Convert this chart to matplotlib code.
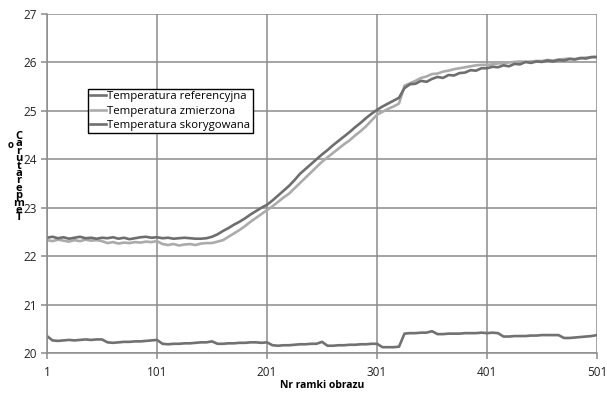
import matplotlib
matplotlib.use("Agg")
import matplotlib.pyplot as plt

frames = list(range(1, 502, 5))

temp_ref = [
    20.35, 20.26, 20.25, 20.26, 20.27, 20.26, 20.27, 20.28, 20.27, 20.28,
    20.28, 20.22, 20.21, 20.22, 20.23, 20.23, 20.24, 20.24, 20.25, 20.26,
    20.27, 20.19, 20.18, 20.19, 20.19, 20.20, 20.20, 20.21, 20.22, 20.22,
    20.24, 20.19, 20.19, 20.20, 20.20, 20.21, 20.21, 20.22, 20.22, 20.21,
    20.22, 20.16, 20.15, 20.16, 20.16, 20.17, 20.18, 20.18, 20.19, 20.19,
    20.23, 20.15, 20.15, 20.16, 20.16, 20.17, 20.17, 20.18, 20.18, 20.19,
    20.19, 20.12, 20.12, 20.12, 20.13, 20.40, 20.41, 20.41, 20.42, 20.42,
    20.45, 20.39, 20.39, 20.40, 20.40, 20.40, 20.41, 20.41, 20.41, 20.42,
    20.41, 20.42, 20.41, 20.34, 20.34, 20.35, 20.35, 20.35, 20.36, 20.36,
    20.37, 20.37, 20.37, 20.37, 20.31, 20.31, 20.32, 20.33, 20.34, 20.35,
    20.37,
]

temp_meas = [
    22.33, 22.31, 22.34, 22.32, 22.30, 22.33, 22.31, 22.34, 22.32, 22.33,
    22.31, 22.27, 22.29, 22.26, 22.28, 22.27, 22.29, 22.28, 22.30, 22.29,
    22.31, 22.25, 22.23, 22.25, 22.22, 22.24, 22.25, 22.23, 22.26, 22.27,
    22.27, 22.30, 22.33, 22.40, 22.47, 22.54, 22.62, 22.71, 22.79, 22.87,
    22.95, 23.03, 23.12, 23.21, 23.29, 23.40, 23.51, 23.62, 23.73, 23.84,
    23.95, 24.04, 24.13, 24.22, 24.31, 24.39, 24.49, 24.58, 24.68, 24.80,
    24.92, 24.98, 25.04, 25.09, 25.15, 25.52, 25.57, 25.62, 25.68, 25.71,
    25.76, 25.77, 25.81, 25.83, 25.86, 25.88, 25.90, 25.92, 25.94, 25.95,
    25.95, 25.96, 25.98, 25.98, 26.00, 26.01, 26.02, 26.01, 26.02, 26.03,
    26.03, 26.05, 26.04, 26.06, 26.07, 26.08, 26.07, 26.09, 26.10, 26.11,
    26.12,
]

temp_corr = [
    22.38, 22.40, 22.37, 22.39, 22.36, 22.38, 22.40, 22.37, 22.38, 22.36,
    22.38, 22.37, 22.39, 22.36, 22.38, 22.35, 22.37, 22.39, 22.40, 22.38,
    22.39, 22.37, 22.38, 22.36, 22.37, 22.38, 22.37, 22.36, 22.36, 22.37,
    22.40, 22.45, 22.52, 22.58, 22.65, 22.71, 22.78, 22.86, 22.93, 23.00,
    23.06, 23.15, 23.25, 23.35, 23.45, 23.57, 23.70, 23.80, 23.90, 24.00,
    24.10, 24.19, 24.29, 24.38, 24.47, 24.56, 24.66, 24.75, 24.85, 24.94,
    25.02, 25.09, 25.15, 25.21, 25.27, 25.47, 25.55, 25.56, 25.62, 25.60,
    25.66, 25.70, 25.68, 25.74, 25.73, 25.78, 25.79, 25.84, 25.83, 25.88,
    25.88, 25.91, 25.90, 25.94, 25.92, 25.97, 25.96, 26.01, 25.99, 26.02,
    26.01, 26.04, 26.02, 26.05, 26.04, 26.07, 26.06, 26.09, 26.08, 26.11,
    26.11,
]

labels = ["Temperatura referencyjna", "Temperatura zmierzona", "Temperatura skorygowana"]
colors = ["#717171", "#ababab", "#6e6e6e"]
xticks = [1, 101, 201, 301, 401, 501]
yticks = [20, 21, 22, 23, 24, 25, 26, 27]

plt.rcParams['font.family'] = ['Open Sans', 'DejaVu Sans']

fig = plt.figure(figsize=(6.07, 3.94), dpi=100)
ax = fig.add_axes([47/607, 1 - 353/394, 550/607, 339/394])

for vals, lab, col in zip([temp_ref, temp_meas, temp_corr], labels, colors):
    ax.plot(frames, vals, color=col, lw=1.9, label=lab, solid_joinstyle='round')

ax.set_xlim(1, 501)
ax.set_ylim(20, 27)
ax.set_xticks(xticks)
ax.set_yticks(yticks)
ax.grid(True, color="#8c8c8c", lw=1.1)
ax.set_axisbelow(True)
for s in ["top", "right"]:
    ax.spines[s].set_visible(False)
for s in ["left", "bottom"]:
    ax.spines[s].set_color("#8c8c8c")
    ax.spines[s].set_linewidth(1.1)
ax.tick_params(axis='both', colors="#8c8c8c", labelcolor="#222222", labelsize=8.5,
               length=4, width=1.1, direction='out')
ax.tick_params(axis='y', pad=3)
ax.tick_params(axis='x', pad=5)

ax.set_xlabel("Nr ramki obrazu", fontsize=7.5, fontweight='bold', labelpad=1)

stack = "\n".join(list("Temperatura")[::-1])
fig.text(19/607, 1 - 131/394, "C\n" + stack, ha='center', va='top', fontsize=8,
         fontweight='bold', linespacing=0.55)
fig.text(11/607, 1 - 146/394, "o", ha='center', va='center', fontsize=7, fontweight='bold')

leg = ax.legend(loc='upper left', bbox_to_anchor=((88-47)/550, (353-89)/339),
                fontsize=8.2, frameon=True, fancybox=False, framealpha=1,
                edgecolor='black', handlelength=1.4, handletextpad=0.1,
                borderpad=0.2, labelspacing=0.3, borderaxespad=0)
leg.get_frame().set_linewidth(1.0)

fig.savefig("out.png", dpi=100)
